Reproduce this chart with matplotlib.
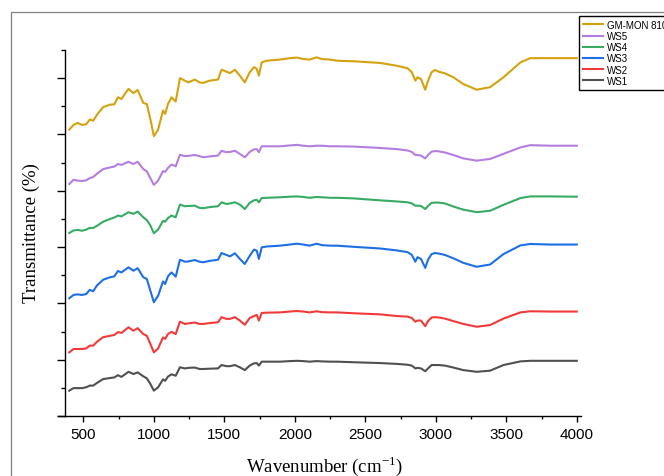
import matplotlib
matplotlib.use("Agg")
import matplotlib.pyplot as plt
from matplotlib.patches import Rectangle
from matplotlib.ticker import MultipleLocator, NullFormatter

plt.rcParams['font.family'] = ['Liberation Sans', 'DejaVu Sans']
plt.rcParams['mathtext.fontset'] = 'custom'
plt.rcParams['mathtext.rm'] = 'Liberation Serif'

# FTIR spectra, stacked (transmittance, arbitrary offset units)
wavenumber = [400, 430, 460, 490, 520, 545, 570, 595, 640, 690,
              720, 745, 770, 820, 855, 885, 925, 950, 975, 1000,
              1030, 1065, 1080, 1100, 1125, 1155, 1185, 1220, 1245, 1290,
              1325, 1350, 1395, 1455, 1480, 1515, 1540, 1575, 1610, 1645,
              1680, 1710, 1730, 1745, 1765, 1800, 1895, 1965, 2015, 2060,
              2105, 2155, 2190, 2250, 2300, 2415, 2605, 2725, 2800, 2830,
              2855, 2870, 2895, 2925, 2945, 2970, 2995, 3020, 3065, 3125,
              3195, 3290, 3385, 3480, 3600, 3670, 3810, 4000]

gm_mon_810 = [101.7, 103.4, 104.1, 103.4, 103.6, 105.3, 104.9, 106.9, 109.7, 110.6,
              110.7, 113.2, 112.6, 116.2, 114.7, 115.8, 111.2, 110.8, 105.5, 99.4,
              101.7, 108.5, 107.3, 110.8, 113.2, 111.7, 120.0, 119.1, 118.5, 119.5,
              118.5, 118.3, 119.1, 119.5, 123.0, 122.3, 121.8, 123.0, 120.9, 118.5,
              122.1, 123.9, 123.3, 120.9, 125.6, 126.2, 126.6, 127.1, 127.3, 126.8,
              126.6, 127.4, 126.8, 126.6, 126.2, 126.0, 125.4, 124.4, 123.5, 122.1,
              119.1, 120.3, 119.7, 115.9, 119.1, 122.1, 122.9, 122.3, 121.7, 120.3,
              117.9, 115.9, 116.8, 120.3, 125.6, 127.1, 127.1, 127.1]

ws5 = [82.4, 83.9, 83.6, 83.5, 83.7, 84.5, 84.9, 86.0, 87.7, 88.3,
       88.6, 89.5, 89.2, 90.3, 89.5, 90.3, 87.7, 86.9, 84.5, 82.1,
       83.6, 87.0, 86.7, 88.1, 89.3, 88.7, 92.8, 92.3, 92.4, 92.7,
       92.3, 91.9, 92.2, 92.5, 94.2, 93.7, 93.8, 94.2, 93.1, 91.9,
       93.8, 94.7, 94.8, 93.7, 95.8, 95.8, 95.8, 96.1, 96.3, 96.0,
       95.8, 96.0, 96.0, 95.8, 95.8, 95.7, 95.2, 94.8, 94.3, 93.8,
       92.7, 92.7, 92.5, 91.5, 92.7, 93.9, 94.1, 94.0, 93.6, 92.7,
       91.5, 90.7, 91.3, 93.1, 95.4, 96.2, 96.0, 96.0]

ws4 = [65.0, 65.9, 66.1, 65.8, 66.2, 66.8, 66.8, 67.5, 69.0, 70.0,
       70.5, 71.2, 70.9, 72.4, 71.8, 72.6, 70.6, 69.6, 67.7, 64.9,
       66.2, 69.3, 69.0, 70.3, 71.2, 70.6, 75.1, 74.5, 74.6, 74.7,
       73.9, 73.8, 74.2, 74.5, 75.9, 75.3, 75.5, 75.9, 75.1, 73.5,
       75.7, 76.6, 76.8, 75.9, 77.4, 77.5, 77.7, 77.9, 78.0, 77.8,
       77.5, 77.8, 77.7, 77.5, 77.5, 77.3, 76.6, 76.2, 75.9, 75.5,
       74.7, 74.7, 74.6, 73.5, 74.6, 75.7, 75.8, 75.8, 75.5, 74.4,
       73.3, 72.4, 72.9, 75.0, 77.4, 78.0, 78.0, 77.9]

ws3 = [41.8, 43.0, 43.2, 43.0, 43.3, 44.8, 44.3, 46.3, 48.4, 49.3,
       49.6, 51.5, 51.0, 52.8, 51.6, 52.5, 49.3, 48.7, 44.5, 40.4,
       42.7, 47.8, 46.9, 49.6, 51.0, 49.5, 55.5, 54.8, 54.9, 55.4,
       54.8, 54.6, 55.1, 55.5, 57.9, 57.2, 56.7, 57.8, 55.8, 54.0,
       56.9, 59.1, 58.7, 55.8, 59.9, 60.2, 60.5, 60.9, 61.2, 60.9,
       60.5, 61.2, 60.7, 60.5, 60.5, 60.1, 59.5, 58.8, 58.2, 57.2,
       54.8, 56.4, 55.8, 52.6, 55.5, 57.5, 57.9, 57.7, 57.2, 56.0,
       54.4, 53.0, 53.8, 57.5, 60.6, 61.1, 60.9, 60.9]

ws2 = [22.6, 23.8, 23.8, 23.8, 24.0, 25.0, 25.0, 26.3, 28.0, 28.5,
       28.8, 29.8, 29.5, 31.5, 30.3, 31.2, 29.1, 28.5, 25.6, 22.6,
       24.0, 27.9, 27.4, 29.1, 29.9, 29.1, 33.5, 32.7, 32.9, 33.2,
       32.7, 32.7, 33.0, 33.3, 35.1, 34.5, 34.5, 35.1, 33.9, 32.4,
       34.8, 35.5, 35.9, 33.9, 36.6, 36.7, 36.8, 37.1, 37.3, 37.1,
       36.8, 37.2, 36.9, 36.8, 36.8, 36.5, 36.1, 35.5, 35.3, 34.8,
       33.5, 33.9, 33.9, 31.9, 33.7, 35.0, 35.1, 35.0, 34.6, 33.7,
       32.7, 31.7, 32.3, 34.6, 36.8, 37.2, 37.1, 37.1]

ws1 = [9.0, 9.9, 9.9, 9.9, 10.2, 10.8, 10.8, 11.7, 13.1, 13.5,
       13.7, 14.5, 13.9, 15.7, 14.9, 15.5, 14.1, 13.4, 11.4, 9.0,
       10.2, 13.0, 12.5, 14.0, 14.8, 14.3, 17.3, 16.9, 17.1, 17.2,
       16.7, 16.7, 16.8, 16.9, 18.1, 17.7, 17.7, 18.1, 17.3, 16.3,
       17.9, 18.7, 18.8, 17.9, 19.3, 19.3, 19.3, 19.5, 19.6, 19.5,
       19.3, 19.5, 19.4, 19.3, 19.3, 19.1, 18.8, 18.5, 18.2, 17.9,
       16.9, 17.1, 16.9, 15.9, 16.9, 18.1, 18.1, 18.1, 17.9, 17.2,
       16.3, 15.7, 16.1, 18.1, 19.4, 19.6, 19.6, 19.6]

labels = ["GM-MON 810", "WS5", "WS4", "WS3", "WS2", "WS1"]
series = [gm_mon_810, ws5, ws4, ws3, ws2, ws1]
colors = ["#D4A20E", "#B47EE0", "#37AB63", "#1E6FE6", "#F03A3A", "#505050"]

fig = plt.figure(figsize=(6.64, 4.77), dpi=100)
ax = fig.add_axes([58 / 664, 60 / 477, 523 / 664, 366 / 477])

for y, c, lab in zip(series, colors, labels):
    ax.plot(wavenumber, y, color=c, lw=1.5, label=lab)

ax.set_xlim(320, 4030)
ax.set_ylim(0, 130)

ax.spines['top'].set_visible(False)
ax.spines['right'].set_visible(False)
ax.spines['left'].set_position(('data', 373))
for s in ('left', 'bottom'):
    ax.spines[s].set_linewidth(1.0)

ax.xaxis.set_major_locator(MultipleLocator(500))
ax.xaxis.set_minor_locator(MultipleLocator(250))
ax.yaxis.set_major_locator(MultipleLocator(20))
ax.yaxis.set_minor_locator(MultipleLocator(10))
ax.yaxis.set_major_formatter(NullFormatter())
ax.tick_params(axis='x', which='major', direction='out', length=4.5, width=1, labelsize=11, pad=3.5)
ax.tick_params(axis='x', which='minor', direction='out', length=2.5, width=1)
ax.tick_params(axis='y', which='major', direction='out', length=5.5, width=1)
ax.tick_params(axis='y', which='minor', direction='out', length=3, width=1)

ax.set_xlabel("Wavenumber (cm$^{-1}$)", family='Liberation Serif', fontsize=13.5, va='center')
ax.xaxis.set_label_coords(0.509, -0.134)
ax.set_ylabel("Transmittance (%)", family='Liberation Serif', fontsize=13.5, va='center')
ax.yaxis.set_label_coords(-0.0516, 0.503)

# legend box sits in the top-right corner and runs off the page edge
leg = ax.legend(loc='upper left', bbox_to_anchor=(579 / 664, 1 - 17 / 477),
                bbox_transform=fig.transFigure, fontsize=7, frameon=True,
                fancybox=False, framealpha=1, edgecolor='black',
                borderpad=0.4, labelspacing=0.12, handlelength=2.1,
                handletextpad=0.35, borderaxespad=0)
leg.get_frame().set_linewidth(1.0)

# thin grey border around the whole graph page
fig.patches.append(Rectangle((10.5 / 664, -0.1), 1.2, 1.1 - 12.5 / 477,
                             transform=fig.transFigure, fill=False,
                             edgecolor='#808080', lw=0.9))

fig.savefig("out.png", dpi=100)
